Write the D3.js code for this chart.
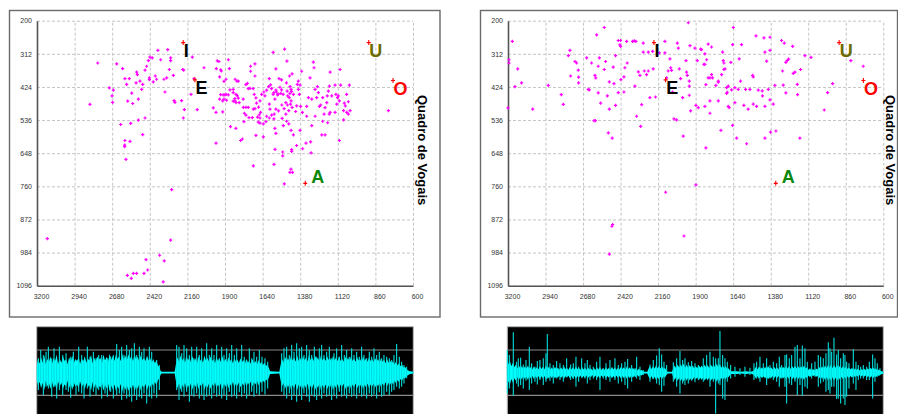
<!DOCTYPE html>
<html><head><meta charset="utf-8">
<script src="https://cdn.jsdelivr.net/npm/d3@7"></script>
<style>body{margin:0;background:#fff}svg{display:block}</style>
</head><body>
<svg id="c" width="898" height="414"></svg>
<script>
const f2Ticks=[3200,2940,2680,2420,2160,1900,1640,1380,1120,860,600];
const f1Ticks=[200,312,424,536,648,760,872,984,1096];
const chartTitle="Quadro de Vogais";
const vowelLabels=["I","E","U","O","A"];
const vowelF2=[2189,2108,906,738,1345];
const vowelF1=[274,400,274,402,750];
const vowelColors=["#000000","#000000","#6b6b00","#ff0000","#0a870a"];

const leftPoints=[[2834,483],[2780,343],[2700,427],[2672,435],[2681,454],[2677,476],[2649,346],[2608,362],[2592,396],[2562,396],[2580,415],[2545,445],[2573,472],[2538,480],[2621,551],[2552,547],[2499,536],[2453,529],[2469,585],[2592,605],[2557,608],[2594,621],[2594,626],[2585,669],
[2511,374],[2506,382],[2515,410],[2488,404],[2469,415],[2476,432],[2499,465],[2453,367],[2442,354],[2430,335],[2419,323],[2403,326],[2423,393],[2423,399],[2396,407],[2382,387],[2373,398],[2364,300],[2345,332],[2322,398],[2315,441],[2303,393],[2296,298],[2285,365],[2276,335],[2276,326],[2257,385],[2246,476],[2252,470],[2200,470],[2193,365],[2186,367],[2181,501],[2188,529],[2126,323],[2135,449],[2114,396],[2092,501],[2045,359],[1981,495],[1962,510],[1962,614],[1953,336],[1942,338],[1960,362],[1937,390],[1930,366],[1925,370],[1877,332],[1870,362],[1893,398],[1907,405],[1830,398],[1818,404],[1930,450],[1937,465],[1900,451],[1877,451],[1866,434],[1843,443],[1832,463],[1815,454],[1802,477],[1843,472],[1862,558],[1825,564],[1792,605],[1780,600],
[1755,416],[1746,412],[1739,430],[1773,493],[1766,513],[1755,519],[1739,493],[1723,371],[1723,354],[1693,346],[1705,430],[1698,449],[1686,461],[1682,479],[1693,497],[1734,528],[1711,528],[1675,526],[1658,529],[1668,492],[1654,510],[1658,546],[1686,588],[1635,593],[1617,541],[1612,523],[1631,441],[1624,454],[1612,435],[1598,423],[1594,396],[1585,417],[1578,430],[1567,307],[1548,363],[1562,443],[1555,465],[1544,441],[1532,448],[1526,396],[1509,400],[1520,425],[1509,434],[1498,449],[1488,296],[1472,337],[1475,410],[1470,438],[1466,454],[1479,477],[1468,485],[1454,387],[1436,380],[1450,423],[1443,432],[1427,449],[1443,471],[1436,493],[1459,504],[1479,516],[1491,497],[1507,485],[1548,499],[1578,519],[1589,499],[1555,564],[1548,581],[1562,532],[1497,555],[1459,549],[1443,571],[1427,586],[1411,507],[1404,488],[1400,415],[1393,432],[1386,449],[1381,418],[1377,490],[1381,571],[1370,371],[1393,404],[1335,523],[1335,490],[1323,460],[1312,393],[1300,465],[1289,340],[1284,359],[1277,432],[1261,423],[1254,443],[1247,490],[1277,523],[1231,586],[1208,586],[1238,485],[1224,460],[1215,516],[1208,494],[1196,477],[1185,438],[1178,421],[1173,374],[1162,454],[1173,510],[1139,418],[1139,510],[1127,482],[1104,365],[1100,418],[1116,454],[1109,605],[1075,479],[1068,488],[1080,504],[1080,535],[1058,510],[1047,474],[1040,418],[1035,504],[770,504],
[1912,451],[1893,449],[1808,404],[1843,432],[1824,449],[1907,465],[1889,469],[1831,471],[1808,462],[1824,477],[1774,465],[1755,493],[1769,541],[1727,429],[1693,387],[1704,499],[1663,518],[1670,543],[1635,549],[1594,529],[1647,449],[1658,471],[1593,482],[1548,435],[1567,449],[1537,451],[1514,446],[1530,505],[1560,516],[1505,530],[1451,446],[1440,439],[1456,460],[1447,482],[1474,540],[1405,622],[1340,614],[1308,610],[1365,510],[1266,460],[1300,555],[1225,540],[1193,454],[1179,516],[1190,545],[1133,449],[1122,460],[1109,471],[1047,516],[1059,449],[1916,471],[1916,508],
[1704,691],[1561,686],[1501,657],[1554,635],[1439,636],[1439,642],[1363,633],[1305,647],[1501,644],[1444,702],[1433,713],[1451,713],[1490,752],[2269,771],[3129,937],[2276,942],[2352,993],[2446,1008],[2320,1012],[2435,1043],[2460,1054],[2534,1054],[2511,1054],[2575,1061],[2548,1071],[2327,1083]];

const rightPoints=[[3170,270],[3193,332],[3193,343],[3133,363],[3106,410],[3152,423],[3200,495],[3029,499],[2921,419],[2831,450],[2817,483],[2782,318],[2771,300],[2766,387],[2736,338],[2725,343],[2713,367],[2711,391],[2711,410],[2655,326],[2644,432],[2637,434],[2621,343],[2598,385],[2592,393],[2575,354],[2567,326],[2586,248],[2533,223],[2533,365],[2524,338],[2575,444],[2558,479],[2512,454],[2498,407],[2498,499],[2471,357],[2466,413],[2455,486],[2455,318],[2436,443],[2604,538],[2595,538],[2505,579],[2478,597],[2436,267],[2420,267],[2425,282],[2420,287],[2418,399],[2397,390],[2397,441],[2390,359],[2378,270],[2374,343],[2337,270],[2325,268],[2314,270],[2321,421],[2309,523],[2297,373],[2286,385],[2281,557],[2274,484],[2263,276],[2263,306],[2256,370],[2240,382],[2228,370],[2228,306],[2217,460],[2198,304],[2194,363],[2178,458],[2152,309],[2113,270],[2113,309],[2101,393],[2090,370],[2078,329],[2073,359],[2067,368],[2060,441],[2050,532],[2032,535],[2027,276],[2020,293],[2013,363],[2004,396],[1990,460],[1986,590],[1967,335],[1963,374],[1958,385],[1951,207],[1944,404],[1944,421],[1944,452],[1939,284],[1935,505],[1905,293],[1898,486],[1889,335],[1882,494],[1866,296],[1859,298],[1843,348],[1836,348],[1836,312],[1836,490],[1829,416],[1829,630],[1824,332],[1813,393],[1801,393],[1813,279],[1801,513],[1801,471],[1790,289],[1790,382],[1783,393],[1760,419],[1743,404],[1743,408],[1743,471],[1725,571],[1720,382],[1713,306],[1709,335],[1704,343],[1704,365],[1697,363],[1685,426],[1685,446],[1681,442],[1674,490],[1668,494],[1674,421],[1656,341],[1651,434],[1644,554],[1639,223],[1644,281],[1628,426],[1628,477],[1616,597],[1605,432],[1598,329],[1589,404],[1582,281],[1566,486],[1554,432],[1547,616],[1536,499],[1524,432],[1505,385],[1501,390],[1501,482],[1482,251],[1478,490],[1466,435],[1439,437],[1437,454],[1427,258],[1420,306],[1420,490],[1420,597],[1408,337],[1397,432],[1385,256],[1385,300],[1385,468],[1381,577],[1362,482],[1351,419],[1344,573],[1305,267],[1298,370],[1293,418],[1286,276],[1275,444],[1265,334],[1256,330],[1275,341],[1228,287],[1224,378],[1212,374],[1196,415],[1194,450],[1178,597],[1173,365],[1143,318],[1101,324],[1009,502],[986,443],[951,413],[825,335],[739,354],
[1898,755],[2108,780],[2475,889],[2480,895],[1981,928],[2498,989]];

// waveform dense envelope: [time ms, amplitude %]
const leftCore=[[0,15],[4,30],[9,20],[13,34],[18,22],[23,38],[27,18],[32,30],[37,24],[41,36],[46,20],[51,33],[55,25],[60,40],[64,19],[69,31],[74,22],[79,36],[83,26],[88,30],[93,18],[97,34],[102,24],[107,38],[111,21],[116,30],[121,26],[126,35],[130,19],[135,32],[140,24],[144,37],[149,22],[154,31],[158,27],[163,39],[168,20],[172,34],[177,25],[182,36],[186,28],[191,33],[196,22],[200,40],[205,27],[210,35],[214,24],[219,42],[224,28],[228,37],[233,26],[238,41],[242,30],[247,36],[252,25],[256,43],[261,29],[266,38],[270,27],[275,40],[280,31],[284,37],[289,26],[294,42],[298,30],[303,35],[308,24],[312,39],[317,28],[322,33],[326,25],[331,38],[336,27],[340,34],[345,22],[350,30],[354,20],[359,27],[364,16],[368,12],[372,4],[375,2],
[414,2],[418,20],[422,34],[427,24],[431,38],[436,26],[440,33],[445,22],[449,39],[454,27],[458,34],[463,23],[467,37],[472,25],[476,32],[481,21],[485,36],[490,26],[494,31],[499,22],[503,38],[508,27],[512,33],[517,24],[521,36],[526,25],[530,30],[535,21],[539,35],[544,26],[548,32],[553,23],[557,37],[562,24],[566,31],[571,22],[575,34],[580,25],[584,30],[589,20],[593,33],[598,24],[602,29],[607,21],[611,32],[616,23],[620,28],[625,20],[629,31],[634,22],[638,27],[643,19],[647,30],[652,21],[656,26],[661,18],[665,28],[670,19],[674,24],[679,17],[683,22],[688,15],[692,18],[697,10],[700,3],[728,2],
[732,18],[736,30],[741,22],[745,36],[750,25],[754,33],[759,23],[763,38],[768,27],[772,34],[777,24],[781,39],[786,26],[790,33],[795,25],[799,37],[804,27],[808,34],[813,24],[817,40],[822,28],[826,35],[831,25],[835,38],[840,29],[844,33],[849,24],[853,39],[858,27],[862,34],[867,26],[871,37],[876,28],[880,33],[885,23],[889,38],[894,27],[898,34],[903,25],[907,36],[912,26],[916,31],[921,24],[925,37],[930,27],[934,33],[939,25],[943,36],[948,26],[952,32],[957,24],[961,35],[966,27],[970,31],[975,23],[979,36],[984,26],[988,32],[993,24],[997,34],[1002,26],[1006,31],[1011,23],[1015,33],[1020,25],[1024,30],[1029,22],[1033,32],[1038,24],[1042,29],[1047,21],[1051,30],[1056,22],[1060,27],[1065,20],[1069,26],[1074,18],[1078,24],[1083,16],[1087,21],[1092,14],[1096,18],[1101,11],[1105,13],[1110,7],[1115,5],[1120,3],[1130,2]];
// spikes: [time ms, positive peak %, negative peak %]
const leftSpikes=[[5,32,38],[12,50,20],[20,39,49],[28,46,31],[35,57,35],[45,32,53],[52,54,31],[60,24,57],[68,57,38],[78,39,49],[88,43,38],[95,24,42],[102,35,55],[110,46,31],[118,17,49],[126,57,42],[135,39,46],[142,28,57],[152,57,35],[160,35,53],[170,46,42],[178,32,49],[186,39,38],[195,39,57],[205,24,46],[212,32,53],[222,35,42],[230,39,57],[240,63,49],[248,50,46],[255,57,60],[262,39,46],[270,61,57],[278,50,53],[285,54,64],[293,65,49],[300,39,60],[308,57,53],[315,46,57],[322,54,46],[330,32,68],[338,57,53],[345,46,57],[352,24,46],[360,28,55],[368,17,38],
[420,61,38],[427,57,60],[435,43,42],[442,61,53],[450,54,42],[458,39,64],[465,57,49],[472,32,53],[480,57,46],[488,39,57],[495,54,49],[502,24,60],[510,65,53],[518,39,49],[525,54,57],[532,39,46],[540,61,53],[548,32,49],[555,57,57],[562,39,49],[570,54,60],[578,43,42],[585,61,53],[593,39,49],[600,54,57],[608,24,43],[615,61,53],[623,35,46],[630,28,57],[638,54,49],[645,32,42],[652,46,53],[660,35,46],[668,50,49],[676,35,42],[685,32,48],[693,24,35],
[735,43,42],[742,54,49],[750,57,57],[758,39,46],[765,61,60],[772,46,49],[780,65,64],[788,54,49],[795,57,60],[802,39,46],[810,61,53],[818,50,64],[825,39,49],[833,57,53],[840,35,60],[848,54,49],[855,61,57],[862,39,46],[870,46,53],[878,57,49],[885,32,60],[892,43,49],[900,54,57],[908,35,42],[915,61,53],[923,39,49],[930,50,57],[938,35,46],[945,54,53],[952,39,49],[960,46,57],[968,35,46],[975,57,53],[982,39,49],[990,32,57],[998,46,46],[1005,35,53],[1012,54,48],[1020,39,57],[1028,46,43],[1035,32,53],[1042,39,49],[1050,35,42],[1058,32,49],[1065,28,42],[1072,39,38],[1080,63,31],[1088,35,35],[1095,24,31],[1102,17,24],[1110,13,12]];

const rightCore=[[0,30],[4,18],[8,26],[12,14],[17,22],[21,12],[26,18],[30,10],[35,16],[39,9],[44,15],[48,8],[53,14],[57,9],[62,16],[66,8],[71,13],[75,7],[80,14],[84,8],[89,12],[93,7],[98,15],[102,8],[107,13],[111,7],[116,16],[120,9],[125,13],[129,7],[134,12],[138,6],[143,13],[147,8],[152,11],[156,6],[161,12],[165,7],[170,14],[174,8],[179,11],[183,6],[188,13],[192,7],[197,12],[201,7],[206,14],[210,8],[215,11],[219,6],[224,13],[228,7],[233,11],[237,6],[242,12],[246,7],[251,10],[255,5],[260,11],[264,6],[269,12],[273,7],[278,13],[282,6],[287,10],[291,6],[296,12],[300,7],[305,11],[309,6],[314,13],[318,7],[323,12],[327,6],[332,11],[336,7],[341,13],[345,8],[350,12],[354,7],[359,14],[363,8],[368,12],[372,6],[377,11],[381,6],[386,10],[390,5],[395,9],[399,5],[404,6],[408,2],[420,2],
[424,9],[428,14],[433,8],[437,15],[442,9],[446,16],[451,10],[455,15],[460,9],[464,14],[469,8],[473,11],[477,5],[481,2],[494,2],
[498,10],[502,16],[507,9],[511,18],[516,11],[520,19],[525,12],[529,20],[534,11],[538,18],[543,10],[547,17],[552,11],[556,16],[561,9],[565,15],[570,10],[574,17],[579,11],[583,16],[588,10],[592,18],[597,11],[601,17],[606,10],[610,19],[615,12],[619,18],[624,11],[628,20],[633,12],[637,19],[642,11],[646,17],[651,10],[655,15],[660,8],[664,10],[668,5],
[672,3],[690,3],[700,2],[715,3],[730,2],[738,4],
[742,8],[746,13],[751,7],[755,14],[760,8],[764,12],[769,7],[773,13],[778,8],[782,15],[787,9],[791,12],[796,7],[800,13],[805,8],[809,12],[814,7],[818,14],[823,8],[827,13],[832,9],[836,15],[841,9],[845,14],[850,8],[854,15],[859,10],[863,16],[868,9],[872,15],[877,9],[881,14],[886,10],[890,16],[895,9],[899,12],[904,6],[908,10],[913,5],[917,8],[922,5],[926,9],[931,7],[935,13],[940,8],[944,14],[949,9],[953,16],[958,10],[962,17],[967,11],[971,18],[976,10],[980,17],[985,11],[989,18],[994,10],[998,16],[1003,9],[1007,15],[1012,9],[1016,14],[1021,8],[1025,12],[1030,7],[1034,11],[1039,6],[1043,10],[1048,6],[1052,9],[1057,5],[1061,8],[1066,6],[1070,9],[1075,6],[1079,10],[1084,7],[1088,11],[1093,8],[1097,12],[1102,7],[1106,10],[1111,5],[1115,7],[1120,4],[1124,3],[1128,2]];
const rightSpikes=[[0,50,46],[6,39,35],[18,89,51],[28,24,24],[33,32,31],[40,33,27],[48,18,35],[56,28,18],[66,57,38],[73,21,24],[83,13,20],[90,26,26],[98,28,16],[108,32,27],[116,43,20],[120,85,13],[128,21,18],[138,17,24],[148,26,13],[158,21,16],[168,17,20],[178,32,9],[190,18,16],[198,21,14],[206,35,31],[214,13,20],[223,32,9],[233,21,13],[240,28,24],[248,17,16],[258,13,13],[268,24,16],[278,35,38],[288,10,13],[296,21,16],[308,28,20],[323,32,16],[333,17,24],[343,21,20],[353,24,27],[361,30,35],[373,17,20],[383,10,9],[388,35,13],[398,13,16],[408,6,5],[428,18,20],[438,28,14],[448,38,24],[456,54,27],[463,40,42],[470,24,29],[478,17,5],[498,23,20],[508,32,31],[518,48,46],[526,28,24],[533,32,27],[543,23,24],[553,26,18],[563,21,21],[573,17,16],
[588,32,20],[598,39,13],[608,46,31],[618,35,20],[625,32,90],[633,32,24],[638,92,27],[646,39,57],[653,32,60],[660,24,20],[670,17,13],[683,13,9],[698,10,5],[713,13,9],[728,11,5],[740,21,16],[748,24,13],[758,35,20],[768,21,9],[778,32,27],[788,17,13],[798,24,16],[808,21,20],[816,35,31],[823,17,13],[833,39,31],[838,40,68],[846,32,24],[853,39,27],[863,57,20],[870,61,49],[878,32,27],[885,60,51],[893,54,31],[900,24,35],[913,21,13],[923,24,9],[933,39,31],[940,35,24],[948,32,20],[956,43,42],[963,67,38],[968,54,46],[973,46,31],[980,77,31],[988,40,58],[993,50,57],[1000,32,68],[1008,43,57],[1013,39,71],[1018,24,53],[1025,21,35],[1038,52,24],[1046,24,38],[1053,17,16],[1060,13,13],[1068,17,13],[1078,13,16],[1086,24,16],[1096,40,57],[1103,32,20],[1110,21,9],[1118,10,5]];

const svg=d3.select("#c");
const FONT="'Liberation Sans', Arial, sans-serif";
const yTop=20.7, yBot=285.7;

function drawPanel(cfg, points, core, spikes, dur){
  const g=svg.append("g");
  g.append("rect").attr("x",cfg.fx).attr("y",10.5).attr("width",cfg.fw).attr("height",306.5)
    .attr("fill","#fff").attr("stroke","#6a6a6a").attr("stroke-width",1.4);
  const x=d3.scaleLinear().domain([3200,600]).range([cfg.x0,cfg.x1]);
  const y=d3.scaleLinear().domain([200,1096]).range([yTop,yBot]);
  const gy=g.append("g").attr("transform",`translate(${cfg.x0},0)`)
    .call(d3.axisLeft(y).tickValues(f1Ticks).tickSize(-(cfg.x1-cfg.x0)).tickFormat(""));
  const gx=g.append("g").attr("transform",`translate(0,${yBot})`)
    .call(d3.axisBottom(x).tickValues(f2Ticks).tickSize(-(yBot-yTop)).tickFormat(""));
  [gy,gx].forEach(a=>{a.select(".domain").remove();
    a.selectAll("line").attr("stroke","#c4c4c4").attr("stroke-dasharray","3,2").attr("stroke-width",1);});
  const ay=g.append("g").attr("transform",`translate(${cfg.x0},0)`)
    .call(d3.axisLeft(y).tickValues(f1Ticks).tickSize(0).tickPadding(5).tickFormat(d3.format("d")));
  const ax=g.append("g").attr("transform",`translate(0,${yBot})`)
    .call(d3.axisBottom(x).tickValues(f2Ticks).tickSize(0).tickPadding(8).tickFormat(d3.format("d")));
  [ay,ax].forEach(a=>{a.select(".domain").attr("stroke","#555").attr("stroke-width",1.6);
    a.selectAll("text").attr("font-family",FONT).attr("font-size",7).attr("fill","#333");});
  ax.selectAll("text").attr("dx",4);
  g.append("g").selectAll("path").data(points).join("path")
    .attr("d",d=>{const px=x(d[0]),py=y(d[1]);return `M${px-1.6},${py}H${px+1.6}M${px},${py-1.6}V${py+1.6}`;})
    .attr("stroke","#ff00ff").attr("stroke-width",1.2).attr("fill","none");
  const vg=g.append("g");
  vowelLabels.forEach((v,i)=>{
    const px=x(vowelF2[i]),py=y(vowelF1[i]);
    vg.append("path").attr("d",`M${px-2},${py}H${px+2}M${px},${py-2.5}V${py+2.5}`)
      .attr("stroke","#ff0000").attr("stroke-width",1.1);
    const isA=v==="A";
    vg.append("text").attr("x",px+(isA?6:0.5)).attr("y",py+(isA?0:14.5))
      .attr("font-family",FONT).attr("font-weight","bold").attr("font-size",18)
      .attr("fill",vowelColors[i]).text(v);
  });
  g.append("text").attr("transform",`translate(${cfg.tx},95) rotate(90)`)
    .attr("font-family",FONT).attr("font-weight","bold").attr("font-size",13)
    .attr("fill","#000").text(chartTitle);

  const wg=svg.append("g");
  const wx=d3.scaleLinear().domain([0,dur]).range([cfg.w0,cfg.w1]);
  const wy=d3.scaleLinear().domain([-100,100]).range([418.1,327.3]);
  wg.append("rect").attr("x",cfg.w0).attr("y",326.7).attr("width",cfg.w1-cfg.w0).attr("height",90)
    .attr("fill","#000").attr("stroke","#b8b8b8").attr("stroke-width",1);
  wg.selectAll("line.ref").data([50,-50]).join("line").attr("class","ref")
    .attr("x1",cfg.w0).attr("x2",cfg.w1).attr("y1",d=>wy(d)).attr("y2",d=>wy(d))
    .attr("stroke","#8a8a8a").attr("stroke-width",1.2);
  wg.append("path").datum(core)
    .attr("d",d3.area().x(d=>wx(d[0])).y0(d=>wy(-d[1])).y1(d=>wy(d[1])).curve(d3.curveLinear))
    .attr("fill","#00ffff");
  wg.selectAll("line.sp").data(spikes).join("line").attr("class","sp")
    .attr("x1",d=>wx(d[0])).attr("x2",d=>wx(d[0])).attr("y1",d=>wy(d[1])).attr("y2",d=>wy(-d[2]))
    .attr("stroke","#00e0e0").attr("stroke-width",1.1);
}

drawPanel({fx:9.5,fw:430.5,x0:37,x1:413,tx:417.5,w0:36.7,w1:413.3}, leftPoints, leftCore, leftSpikes, 1130);
drawPanel({fx:480.5,fw:417,x0:508,x1:883.3,tx:885.5,w0:507.3,w1:883.3}, rightPoints, rightCore, rightSpikes, 1128);
</script>
</body></html>
